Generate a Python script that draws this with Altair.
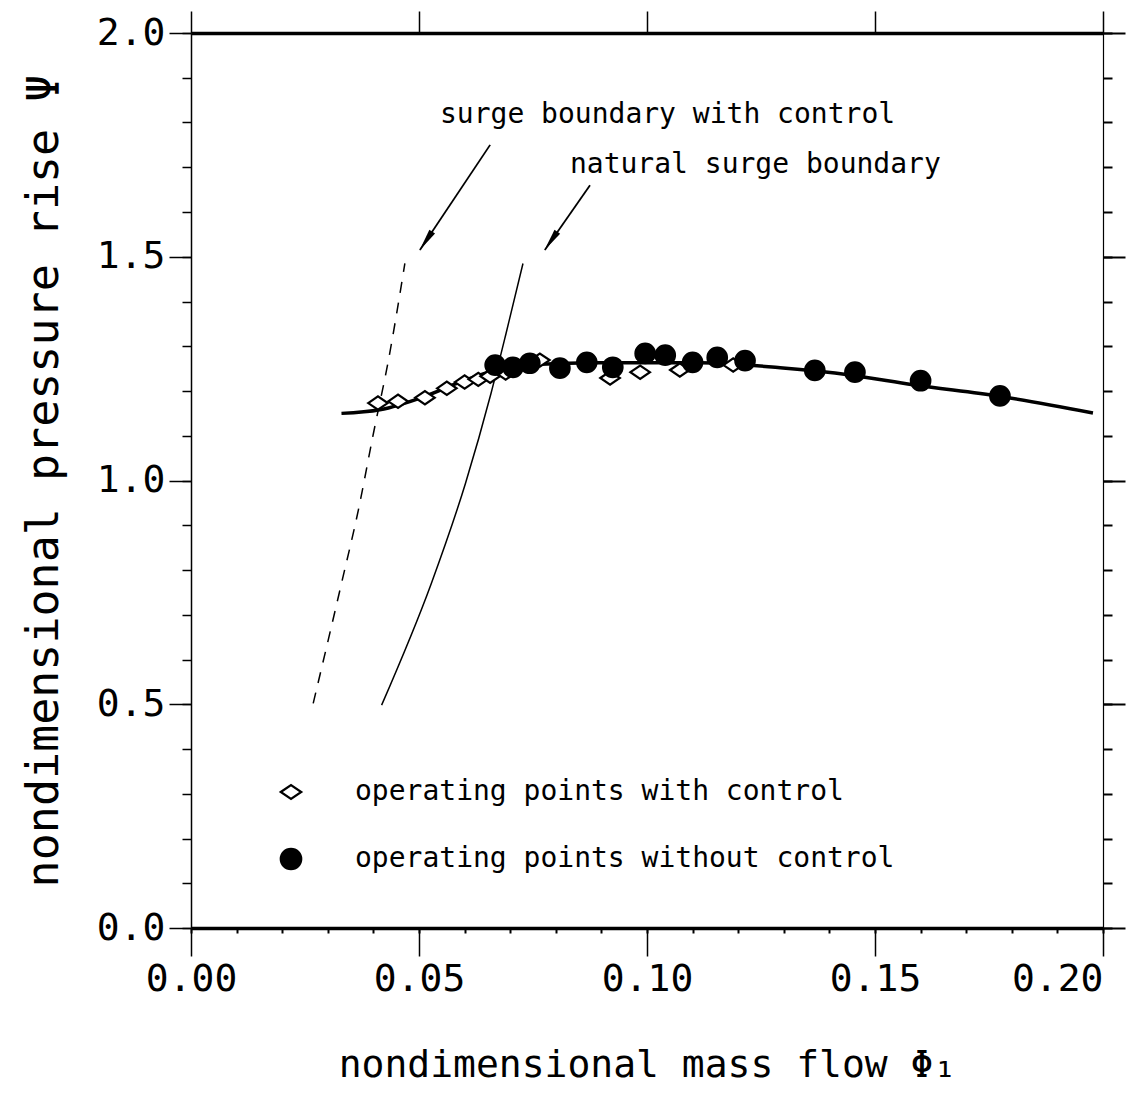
import altair as alt
import pandas as pd

# characteristic (pressure rise) curve
curve_x = [0.0330, 0.0414, 0.0510, 0.0583, 0.0656, 0.0700, 0.0800, 0.0897, 0.1116, 0.1292, 0.1445, 0.1583, 0.1774, 0.1978]
curve_y = [1.150, 1.158, 1.187, 1.217, 1.243, 1.256, 1.261, 1.263, 1.263, 1.252, 1.236, 1.214, 1.188, 1.151]

# surge boundaries
natural_x = [0.0418, 0.0527, 0.0602, 0.0658, 0.0691, 0.0728]
natural_y = [0.498, 0.770, 0.994, 1.195, 1.329, 1.485]
control_x = [0.0268, 0.0330, 0.0367, 0.0400, 0.0433, 0.0469]
control_y = [0.502, 0.770, 0.934, 1.105, 1.269, 1.485]

# operating points
with_x = [0.0410, 0.0454, 0.0513, 0.0561, 0.0600, 0.0630, 0.0656, 0.0690, 0.0765, 0.0919, 0.0985, 0.1072, 0.1189]
with_y = [1.173, 1.177, 1.185, 1.206, 1.220, 1.226, 1.233, 1.240, 1.269, 1.229, 1.242, 1.247, 1.258]
without_x = [0.0667, 0.0706, 0.0743, 0.0809, 0.0868, 0.0925, 0.0996, 0.1040, 0.1100, 0.1154, 0.1215, 0.1368, 0.1456, 0.1600, 0.1774]
without_y = [1.258, 1.253, 1.262, 1.251, 1.264, 1.253, 1.284, 1.280, 1.264, 1.275, 1.268, 1.246, 1.242, 1.223, 1.189]

series_names = ["operating points with control", "operating points without control"]

# annotations
ann_text = ["surge boundary with control", "natural surge boundary"]
ann_x = [0.0546, 0.0831]
ann_y = [1.817, 1.705]
arrow_x1 = [0.0656, 0.0875]
arrow_y1 = [1.750, 1.660]
arrow_x2 = [0.0502, 0.0776]
arrow_y2 = [1.515, 1.515]
head_x = [0.0515, 0.0789]
head_y = [1.535, 1.535]
head_angle = [214, 215]

x_major = [0.0, 0.05, 0.10, 0.15, 0.20]
x_minor = [round(i * 0.01, 2) for i in range(21)]
y_major = [0.0, 0.5, 1.0, 1.5, 2.0]
y_minor = [round(i * 0.1, 1) for i in range(21)]

MONO = "DejaVu Sans Mono"
XDOM = [0.0, 0.2]
YDOM = [0.0, 2.0]

curve_df = pd.DataFrame({"x": curve_x, "y": curve_y})
nat_df = pd.DataFrame({"x": natural_x, "y": natural_y})
ctl_df = pd.DataFrame({"x": control_x, "y": control_y})
pts_df = pd.concat([
    pd.DataFrame({"x": with_x, "y": with_y, "s": series_names[0]}),
    pd.DataFrame({"x": without_x, "y": without_y, "s": series_names[1]}),
])
ann_df = pd.DataFrame({"x": ann_x, "y": ann_y, "t": ann_text})
arr_df = pd.DataFrame({"x": arrow_x1, "y": arrow_y1, "x2": arrow_x2, "y2": arrow_y2})
head_df = pd.DataFrame({"x": head_x, "y": head_y, "a": head_angle})


def X(axis):
    return alt.X("x:Q", scale=alt.Scale(domain=XDOM, nice=False, zero=False), axis=axis)


def Y(axis):
    return alt.Y("y:Q", scale=alt.Scale(domain=YDOM, nice=False, zero=False), axis=axis)


ax_bottom = alt.Axis(orient="bottom", values=x_major, format=".2f", tickSize=28, tickWidth=1.5,
                     tickColor="black", domainColor="black", domainWidth=3.5, labelFont=MONO,
                     labelFontSize=38, labelColor="black", labelPadding=4, grid=False,
                     labelAlign={"condition": {"test": "datum.value >= 0.2", "value": "right"},
                                 "value": "center"},
                     title="nondimensional mass flow Φ₁", titleFont=MONO, titleFontSize=38,
                     titleFontWeight="normal", titleColor="black", titlePadding=48, labelFlush=False)
ax_bottom_minor = alt.Axis(orient="bottom", values=x_minor, tickSize=5, tickWidth=2, tickColor="black",
                           labels=False, domain=False, grid=False, title=None)
ax_left = alt.Axis(orient="left", values=y_major, format=".1f", tickSize=22, tickWidth=1.5,
                   tickColor="black", domainColor="black", domainWidth=1.5, labelFont=MONO,
                   labelFontSize=38, labelColor="black", labelPadding=4, grid=False,
                   title="nondimensional pressure rise Ψ", titleFont=MONO, titleFontSize=45,
                   titleFontWeight="normal", titleColor="black", titlePadding=30, labelFlush=False)
ax_left_minor = alt.Axis(orient="left", values=y_minor, tickSize=9, tickWidth=1.5, tickColor="black",
                         labels=False, domain=False, grid=False, title=None)
ax_top = alt.Axis(orient="top", values=x_major, tickSize=22, tickWidth=1.5, tickColor="black",
                  domainColor="black", domainWidth=3.5, labels=False, grid=False, title=None)
ax_right = alt.Axis(orient="right", values=y_major, tickSize=22, tickWidth=2, tickColor="black",
                    domainColor="black", domainWidth=1.2, labels=False, grid=False, title=None)
ax_right_minor = alt.Axis(orient="right", values=y_minor, tickSize=9, tickWidth=2, tickColor="black",
                          labels=False, domain=False, grid=False, title=None)

curve = alt.Chart(curve_df).mark_line(color="black", strokeWidth=3.5, interpolate="monotone").encode(
    x=X(ax_bottom), y=Y(ax_left), order="x:Q")
natural = alt.Chart(nat_df).mark_line(color="black", strokeWidth=1.5, interpolate="monotone").encode(
    x=X(ax_bottom_minor), y=Y(ax_left_minor), order="y:Q")
control = alt.Chart(ctl_df).mark_line(color="black", strokeWidth=1.5, strokeDash=[11, 10],
                                      interpolate="monotone").encode(
    x=X(ax_top), y=Y(ax_right), order="y:Q")

diamond_path = "M-1,0L0,-0.68L1,0L0,0.68Z"
points = alt.Chart(pts_df).mark_point(size=380, strokeWidth=2.2, opacity=1).encode(
    x=X(None), y=Y(ax_right_minor),
    shape=alt.Shape("s:N", scale=alt.Scale(domain=series_names, range=[diamond_path, "circle"]),
                    legend=alt.Legend(title=None, orient="none", legendX=86, legendY=745,
                                      labelFont=MONO, labelFontSize=28, labelColor="black",
                                      symbolSize=420, symbolStrokeWidth=2.2, symbolStrokeColor="black",
                                      labelOffset=50, rowPadding=38, padding=0, labelLimit=800)),
    fill=alt.Fill("s:N", scale=alt.Scale(domain=series_names, range=["white", "black"]), legend=None),
    stroke=alt.Stroke("s:N", scale=alt.Scale(domain=series_names, range=["black", "black"]), legend=None),
)

ann = alt.Chart(ann_df).mark_text(font=MONO, fontSize=28, align="left", baseline="middle",
                                  color="black").encode(x=X(None), y=Y(None), text="t:N")
arrows = alt.Chart(arr_df).mark_rule(color="black", strokeWidth=1.8).encode(
    x=X(None), y=Y(None), x2="x2:Q", y2="y2:Q")
heads = alt.Chart(head_df).mark_point(shape="M0,-1L0.3,1L-0.3,1Z", size=520, filled=True,
                                      color="black", opacity=1).encode(
    x=X(None), y=Y(None), angle=alt.Angle("a:Q", scale=None))

chart = alt.layer(curve, natural, control, points, arrows, heads, ann).resolve_axis(
    x="independent", y="independent"
).properties(
    width=912, height=895,
    padding={"left": 191, "top": 33, "right": 25, "bottom": 171},
    autosize=alt.AutoSizeParams(type="none"),
    background="white",
).configure_view(stroke=None)

chart.save("out.html", embed_options={"renderer": "svg", "actions": False})
